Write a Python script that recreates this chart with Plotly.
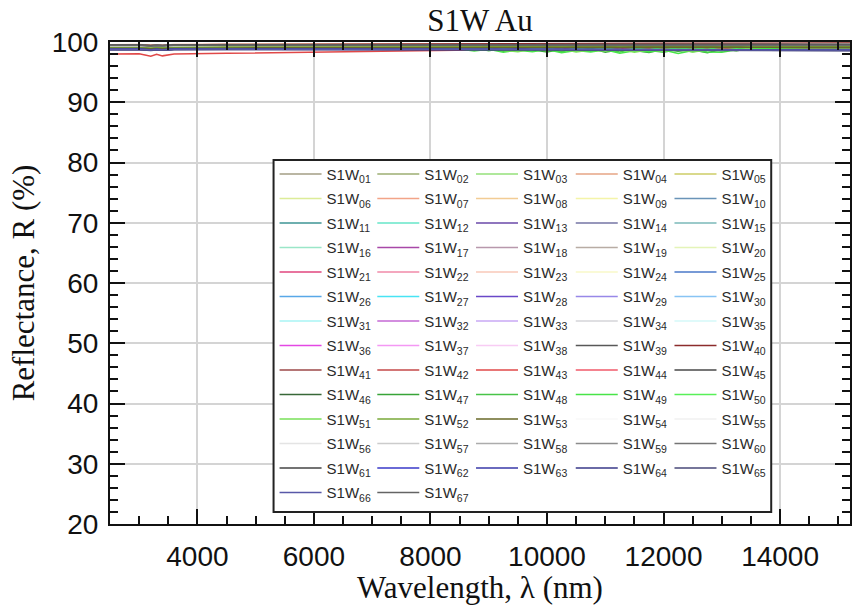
import plotly.graph_objects as go

# ---------------- data ----------------
WL = [2500, 3000, 3200, 3300, 3400, 3600, 4500, 6000, 8000, 10000, 12000, 14000, 15200]
WL_FINE = [2500, 3000, 3200, 3300, 3400, 3600, 4500, 6000, 7000, 8000, 8500, 8750, 9000, 9250,
           9500, 9750, 10000, 10250, 10500, 10750, 11000, 11250, 11500, 11750, 12000, 12250,
           12500, 12750, 13000, 13250, 13500, 13750, 14000, 14500, 15200]

SERIES_A = [  # S1W_01 .. S1W_10
    [99.20, 99.22, 99.10, 99.18, 99.12, 99.22, 99.25, 99.28, 99.30, 99.31, 99.32, 99.33, 99.34],
    [99.05, 99.08, 98.96, 99.04, 98.98, 99.08, 99.12, 99.16, 99.18, 99.20, 99.21, 99.22, 99.22],
    [99.30, 99.32, 99.18, 99.28, 99.20, 99.32, 99.35, 99.38, 99.40, 99.41, 99.42, 99.43, 99.44],
    [99.45, 99.48, 99.36, 99.44, 99.38, 99.48, 99.52, 99.56, 99.60, 99.63, 99.65, 99.67, 99.68],
    [99.35, 99.38, 99.26, 99.34, 99.28, 99.38, 99.42, 99.45, 99.48, 99.50, 99.52, 99.53, 99.54],
    [99.28, 99.30, 99.18, 99.26, 99.20, 99.30, 99.34, 99.37, 99.40, 99.42, 99.43, 99.44, 99.45],
    [99.55, 99.58, 99.46, 99.54, 99.48, 99.58, 99.62, 99.66, 99.70, 99.73, 99.75, 99.77, 99.78],
    [99.50, 99.52, 99.40, 99.48, 99.42, 99.52, 99.56, 99.60, 99.63, 99.66, 99.68, 99.70, 99.71],
    [99.40, 99.42, 99.30, 99.38, 99.32, 99.42, 99.46, 99.50, 99.53, 99.55, 99.57, 99.58, 99.59],
    [98.85, 98.88, 98.76, 98.84, 98.78, 98.88, 98.92, 98.95, 98.97, 98.98, 98.99, 99.00, 99.00],
]
SERIES_B = [  # S1W_11 .. S1W_20
    [99.00, 99.02, 98.90, 98.98, 98.92, 99.02, 99.06, 99.10, 99.12, 99.14, 99.15, 99.16, 99.16],
    [99.18, 99.20, 99.08, 99.16, 99.10, 99.20, 99.24, 99.27, 99.30, 99.32, 99.33, 99.34, 99.35],
    [98.95, 98.98, 98.86, 98.94, 98.88, 98.98, 99.02, 99.05, 99.08, 99.10, 99.11, 99.12, 99.12],
    [98.90, 98.92, 98.80, 98.88, 98.82, 98.92, 98.96, 99.00, 99.02, 99.04, 99.05, 99.06, 99.06],
    [99.10, 99.12, 99.00, 99.08, 99.02, 99.12, 99.16, 99.20, 99.22, 99.24, 99.25, 99.26, 99.27],
    [99.22, 99.24, 99.12, 99.20, 99.14, 99.24, 99.28, 99.31, 99.34, 99.36, 99.37, 99.38, 99.39],
    [99.08, 99.10, 98.98, 99.06, 99.00, 99.10, 99.14, 99.18, 99.20, 99.22, 99.23, 99.24, 99.25],
    [99.15, 99.18, 99.06, 99.14, 99.08, 99.18, 99.22, 99.25, 99.28, 99.30, 99.31, 99.32, 99.33],
    [99.02, 99.05, 98.93, 99.01, 98.95, 99.05, 99.09, 99.12, 99.15, 99.17, 99.18, 99.19, 99.20],
    [99.32, 99.35, 99.23, 99.31, 99.25, 99.35, 99.39, 99.42, 99.45, 99.47, 99.48, 99.49, 99.50],
]
SERIES_C = [  # S1W_21 .. S1W_30
    [99.20, 99.22, 99.10, 99.18, 99.12, 99.22, 99.26, 99.30, 99.33, 99.35, 99.36, 99.37, 99.38],
    [99.28, 99.30, 99.18, 99.26, 99.20, 99.30, 99.34, 99.38, 99.41, 99.43, 99.44, 99.45, 99.46],
    [99.48, 99.50, 99.38, 99.46, 99.40, 99.50, 99.54, 99.58, 99.61, 99.63, 99.65, 99.66, 99.67],
    [99.42, 99.44, 99.32, 99.40, 99.34, 99.44, 99.48, 99.52, 99.55, 99.57, 99.59, 99.60, 99.61],
    [98.78, 98.80, 98.68, 98.76, 98.70, 98.80, 98.84, 98.88, 98.90, 98.92, 98.93, 98.94, 98.94],
    [98.98, 99.00, 98.88, 98.96, 98.90, 99.00, 99.04, 99.08, 99.10, 99.12, 99.13, 99.14, 99.14],
    [99.08, 99.10, 98.98, 99.06, 99.00, 99.10, 99.14, 99.17, 99.20, 99.22, 99.23, 99.24, 99.24],
    [98.88, 98.90, 98.78, 98.86, 98.80, 98.90, 98.94, 98.98, 99.00, 99.02, 99.03, 99.04, 99.04],
    [98.98, 99.01, 98.89, 98.97, 98.91, 99.01, 99.05, 99.08, 99.11, 99.13, 99.14, 99.15, 99.15],
    [99.10, 99.12, 99.00, 99.08, 99.02, 99.12, 99.16, 99.19, 99.22, 99.24, 99.25, 99.26, 99.26],
]
SERIES_D = [  # S1W_31 .. S1W_40
    [99.18, 99.20, 99.08, 99.16, 99.10, 99.20, 99.24, 99.28, 99.30, 99.32, 99.33, 99.34, 99.35],
    [99.06, 99.08, 98.96, 99.04, 98.98, 99.08, 99.12, 99.16, 99.19, 99.21, 99.22, 99.23, 99.24],
    [99.16, 99.19, 99.07, 99.15, 99.09, 99.19, 99.23, 99.26, 99.29, 99.31, 99.32, 99.33, 99.34],
    [99.26, 99.28, 99.16, 99.24, 99.18, 99.28, 99.32, 99.36, 99.38, 99.40, 99.41, 99.42, 99.43],
    [99.30, 99.32, 99.20, 99.28, 99.22, 99.32, 99.36, 99.39, 99.42, 99.44, 99.45, 99.46, 99.47],
    [99.14, 99.16, 99.04, 99.12, 99.06, 99.16, 99.20, 99.24, 99.27, 99.29, 99.30, 99.31, 99.32],
    [99.24, 99.26, 99.14, 99.22, 99.16, 99.26, 99.30, 99.34, 99.37, 99.39, 99.40, 99.41, 99.42],
    [99.36, 99.38, 99.26, 99.34, 99.28, 99.38, 99.42, 99.46, 99.49, 99.51, 99.52, 99.53, 99.54],
    [98.86, 98.88, 98.76, 98.84, 98.78, 98.88, 98.92, 98.96, 98.99, 99.01, 99.02, 99.03, 99.03],
    [99.50, 99.52, 99.40, 99.48, 99.42, 99.52, 99.58, 99.64, 99.70, 99.74, 99.78, 99.80, 99.82],
]
SERIES_E = [  # S1W_41 .. S1W_46
    [99.06, 99.08, 98.96, 99.04, 98.98, 99.08, 99.12, 99.16, 99.19, 99.21, 99.22, 99.23, 99.24],
    [98.96, 98.98, 98.86, 98.94, 98.88, 98.98, 99.02, 99.06, 99.09, 99.11, 99.12, 99.13, 99.14],
    [98.02, 98.05, 97.65, 97.95, 97.70, 98.02, 98.12, 98.32, 98.60, 98.82, 98.95, 99.02, 99.05],
    [99.28, 99.30, 99.18, 99.26, 99.20, 99.30, 99.34, 99.38, 99.41, 99.43, 99.44, 99.45, 99.46],
    [98.98, 99.00, 98.88, 98.96, 98.90, 99.00, 99.04, 99.08, 99.11, 99.13, 99.14, 99.15, 99.15],
    [99.08, 99.10, 98.98, 99.06, 99.00, 99.10, 99.14, 99.18, 99.21, 99.23, 99.24, 99.25, 99.25],
]
SERIES_NOISY = [  # S1W_47 .. S1W_51 (on WL_FINE)
    [99.02, 99.05, 98.85, 99.00, 98.88, 99.04, 99.08, 99.12, 99.14, 99.15, 99.05, 98.65, 98.95, 98.45,
     98.85, 98.70, 98.35, 98.80, 98.50, 98.95, 98.30, 98.75, 98.60, 98.25, 98.80, 98.45, 98.70, 98.20,
     98.75, 98.55, 98.90, 99.00, 99.10, 99.12, 99.13],
    [99.10, 99.12, 98.95, 99.08, 98.96, 99.12, 99.16, 99.20, 99.22, 99.22, 98.95, 99.05, 98.55, 98.95,
     98.50, 98.90, 98.70, 98.40, 98.85, 98.45, 98.80, 98.35, 98.90, 98.55, 98.30, 98.80, 98.40, 98.75,
     98.50, 98.85, 99.05, 99.15, 99.18, 99.20, 99.20],
    [98.98, 99.00, 98.80, 98.95, 98.82, 99.00, 99.04, 99.08, 99.10, 99.10, 98.85, 98.50, 98.80, 98.30,
     98.65, 98.40, 98.75, 98.20, 98.60, 98.35, 98.70, 98.15, 98.55, 98.40, 98.65, 98.10, 98.60, 98.35,
     98.30, 98.70, 98.85, 98.98, 99.02, 99.04, 99.05],
    [99.18, 99.20, 99.05, 99.16, 99.06, 99.20, 99.24, 99.28, 99.30, 99.30, 99.20, 99.00, 99.25, 98.95,
     99.15, 99.05, 98.80, 99.20, 98.90, 99.10, 98.85, 99.15, 98.95, 98.75, 99.10, 98.85, 99.05, 98.80,
     99.15, 98.95, 99.25, 99.30, 99.32, 99.34, 99.35],
    [99.08, 99.10, 98.92, 99.06, 98.94, 99.10, 99.14, 99.18, 99.20, 99.20, 99.00, 98.70, 98.85, 98.60,
     98.40, 98.80, 98.55, 98.85, 98.35, 98.65, 98.50, 98.80, 98.30, 98.70, 98.45, 98.80, 98.35, 98.65,
     98.80, 98.60, 99.05, 99.15, 99.18, 99.20, 99.20],
]
SERIES_F = [  # S1W_52 .. S1W_60
    [99.16, 99.18, 99.06, 99.14, 99.08, 99.18, 99.22, 99.26, 99.29, 99.31, 99.32, 99.33, 99.34],
    [98.96, 98.98, 98.86, 98.94, 98.88, 98.98, 99.02, 99.06, 99.09, 99.11, 99.12, 99.13, 99.13],
    [99.40, 99.42, 99.30, 99.38, 99.32, 99.42, 99.46, 99.50, 99.52, 99.54, 99.55, 99.56, 99.57],
    [99.44, 99.46, 99.34, 99.42, 99.36, 99.46, 99.50, 99.53, 99.56, 99.58, 99.59, 99.60, 99.61],
    [99.38, 99.40, 99.28, 99.36, 99.30, 99.40, 99.44, 99.48, 99.50, 99.52, 99.53, 99.54, 99.55],
    [99.36, 99.38, 99.26, 99.34, 99.28, 99.38, 99.42, 99.45, 99.48, 99.50, 99.51, 99.52, 99.53],
    [99.42, 99.44, 99.32, 99.40, 99.34, 99.44, 99.47, 99.50, 99.52, 99.53, 99.54, 99.55, 99.55],
    [99.46, 99.48, 99.36, 99.44, 99.38, 99.48, 99.50, 99.52, 99.54, 99.55, 99.56, 99.56, 99.57],
    [99.48, 99.50, 99.38, 99.46, 99.40, 99.50, 99.52, 99.54, 99.55, 99.56, 99.57, 99.57, 99.58],
]
SERIES_G = [  # S1W_61 .. S1W_67
    [99.50, 99.52, 99.40, 99.48, 99.42, 99.52, 99.54, 99.55, 99.56, 99.57, 99.58, 99.58, 99.58],
    [98.80, 98.82, 98.70, 98.78, 98.72, 98.82, 98.84, 98.86, 98.84, 98.80, 98.74, 98.70, 98.68],
    [98.76, 98.78, 98.66, 98.74, 98.68, 98.78, 98.80, 98.82, 98.80, 98.76, 98.70, 98.64, 98.62],
    [98.72, 98.74, 98.62, 98.70, 98.64, 98.74, 98.76, 98.78, 98.76, 98.72, 98.66, 98.60, 98.58],
    [98.70, 98.72, 98.60, 98.68, 98.62, 98.72, 98.74, 98.76, 98.74, 98.70, 98.62, 98.56, 98.54],
    [98.78, 98.80, 98.68, 98.76, 98.70, 98.80, 98.82, 98.84, 98.82, 98.78, 98.72, 98.68, 98.66],
    [99.45, 99.47, 99.35, 99.43, 99.37, 99.47, 99.49, 99.50, 99.51, 99.52, 99.52, 99.52, 99.52],
]

COLORS = [
    "#a39e84", "#9cae72", "#94e07a", "#e6a584", "#cccc66",
    "#dcec98", "#f2a488", "#f2cc94", "#f4f4a8", "#6a94b8",
    "#3e9494", "#66e6c8", "#6a48a8", "#7474a4", "#7ab8b8",
    "#9ae6c8", "#a848a8", "#b898ac", "#b8aca4", "#e4f4b8",
    "#e0467e", "#f08aa8", "#f8c8b8", "#f8f8c8", "#4a78c8",
    "#58a8e8", "#48e4f4", "#6a48c8", "#9888e8", "#88c4f4",
    "#a8f4f4", "#c468d4", "#c8a8f4", "#d4d4d8", "#d4f8f8",
    "#e448e4", "#f498f4", "#f8ccf4", "#585858", "#8c2c2c",
    "#9c4848", "#c44848", "#e04848", "#f05a6a", "#484848",
    "#386838", "#38a438", "#48c448", "#48e448", "#58f058",
    "#78e058", "#78a838", "#686828", "#f8f8f8", "#f0f0f0",
    "#e4e4e4", "#cccccc", "#acacac", "#8c8c8c", "#747474",
    "#444444", "#3838c8", "#3838a8", "#383888", "#484878",
    "#5858a8", "#646464",
]
X_TICKS = [4000, 6000, 8000, 10000, 12000, 14000]
Y_TICKS = [20, 30, 40, 50, 60, 70, 80, 90, 100]

# ---------------- build ----------------
series = []
for v in SERIES_A + SERIES_B + SERIES_C + SERIES_D + SERIES_E:
    series.append((WL, v))
for v in SERIES_NOISY:
    series.append((WL_FINE, v))
for v in SERIES_F + SERIES_G:
    series.append((WL, v))

fig = go.Figure()
legend_names = ["legend", "legend2", "legend3", "legend4", "legend5"]
for i, (x, y) in enumerate(series):
    n = i + 1
    fig.add_trace(go.Scatter(
        x=x, y=y, mode="lines",
        line=dict(color=COLORS[i], width=1.5),
        name="S1W<sub>%02d</sub>" % n,
        legend=legend_names[i % 5],
        legendgroup="g%02d" % n,
        showlegend=True,
    ))

# plot area geometry (px)
L, R, T, B = 110, 2, 42, 81
W = 854 - L - R
H = 605 - T - B

FONT_SIZE = 15
item_h = FONT_SIZE * 1.3 + 3
pitch = 24.5
leg_common = dict(
    orientation="v", xanchor="left", yanchor="top",
    bgcolor="rgba(0,0,0,0)", borderwidth=0,
    itemwidth=42,
    font=dict(family="Liberation Sans, Arial, sans-serif", size=FONT_SIZE, color="#2a2a2a"),
    traceorder="grouped",
    tracegroupgap=pitch - item_h,
)
col_px = [275, 373, 472, 572, 671]
first_row_center = 174
leg_top_px = first_row_center - 5 - item_h / 2
legend_layout = {}
for k, name in enumerate(legend_names):
    legend_layout[name] = dict(leg_common,
                               x=(col_px[k] - L) / W,
                               y=(605 - B - leg_top_px) / H)

box_l, box_r, box_t, box_b = 274, 773, 160, 512
fig.add_shape(type="rect", xref="paper", yref="paper",
              x0=(box_l - L) / W, x1=(box_r - L) / W,
              y0=(605 - B - box_b) / H, y1=(605 - B - box_t) / H,
              line=dict(color="#222", width=2), fillcolor="white", layer="above")

tick_font = dict(family="Liberation Sans, Arial, sans-serif", size=28, color="#111")
title_font = dict(family="Liberation Serif, Times New Roman, serif", size=31, color="#111")

fig.update_layout(
    width=854, height=605,
    margin=dict(l=L, r=R, t=T, b=B),
    paper_bgcolor="white", plot_bgcolor="white",
    title=dict(text="S1W Au", font=title_font, x=0.5, xref="paper", xanchor="center",
               y=1 - 20 / 605, yref="container", yanchor="middle"),
    showlegend=True,
    **legend_layout,
)
fig.update_xaxes(
    range=[2500, 15200], tickvals=X_TICKS, ticktext=[str(v) for v in X_TICKS],
    ticks="inside", ticklen=15, tickwidth=2, tickcolor="#111",
    minor=dict(dtick=500, tick0=0, ticks="inside", ticklen=8, tickwidth=2, tickcolor="#111",
               showgrid=False),
    showline=True, linecolor="#111", linewidth=2, mirror="allticks",
    showgrid=True, gridcolor="#d4d4d4", gridwidth=1.5,
    tickfont=tick_font, ticklabelstandoff=6,
    title=dict(text="Wavelength, λ (nm)", font=title_font, standoff=4),
    zeroline=False,
)
fig.update_yaxes(
    range=[20, 100], tickvals=Y_TICKS, ticktext=[str(v) for v in Y_TICKS],
    ticks="inside", ticklen=15, tickwidth=2, tickcolor="#111",
    minor=dict(dtick=2, tick0=0, ticks="inside", ticklen=8, tickwidth=2, tickcolor="#111",
               showgrid=False),
    showline=True, linecolor="#111", linewidth=2, mirror="allticks",
    showgrid=True, gridcolor="#d4d4d4", gridwidth=1.5,
    tickfont=tick_font, ticklabelstandoff=4,
    title=dict(text="Reflectance, R (%)", font=title_font, standoff=8),
    zeroline=False,
)

fig.write_html("out.html")
